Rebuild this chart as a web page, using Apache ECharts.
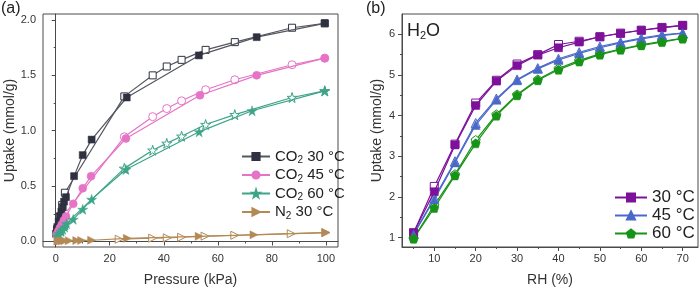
<!DOCTYPE html>
<html><head><meta charset="utf-8">
<script src="https://cdn.jsdelivr.net/npm/echarts@6/dist/echarts.min.js"></script>
<style>html,body{margin:0;padding:0;background:#fff}#c{width:700px;height:292px}</style>
</head><body><div id="c"></div>
<script>
// ---------- Panel (a): CO2 / N2 isotherms, [pressure kPa, uptake mmol/g] ----------
const co2_30_ads = [[0.1,0.07],[0.6,0.13],[1.1,0.18],[1.6,0.23],[2.1,0.27],[2.6,0.31],[3.1,0.36],[3.8,0.40],[6.8,0.59],[10,0.78],[13.3,0.92],[26.3,1.30],[53,1.68],[74.4,1.845],[99.6,1.97]];
const co2_30_des = [[99.6,1.97],[87.5,1.93],[66.3,1.80],[55.5,1.73],[46.6,1.64],[41.1,1.58],[35.9,1.50],[25.4,1.31],[3.4,0.44],[2.4,0.33],[1.4,0.22],[0.5,0.11]];
const co2_45_ads = [[0.3,0.06],[0.9,0.09],[1.5,0.12],[2.2,0.15],[3.0,0.19],[3.8,0.225],[6.5,0.34],[10,0.48],[13.1,0.59],[26,0.93],[53.4,1.32],[74.4,1.50],[99.6,1.655]];
const co2_45_des = [[99.6,1.655],[87.5,1.596],[66.3,1.46],[55.5,1.37],[46.6,1.27],[41.1,1.20],[35.9,1.127],[25.4,0.945],[3.4,0.25],[2.0,0.16],[0.8,0.08]];
const co2_60_ads = [[0.5,0.05],[1.2,0.07],[1.9,0.09],[2.6,0.11],[3.3,0.13],[4.0,0.16],[6.5,0.20],[10,0.29],[13.3,0.38],[26,0.65],[53.1,0.99],[72.7,1.18],[99.6,1.36]];
const co2_60_des = [[99.6,1.36],[87.5,1.30],[66.3,1.145],[55.5,1.056],[46.6,0.95],[41.1,0.886],[35.9,0.824],[25.4,0.66],[3.4,0.15],[2.0,0.10],[0.8,0.06]];
const n2_30_ads = [[0.8,0.003],[1.6,0.004],[2.5,0.005],[3.4,0.006],[5,0.007],[7.8,0.008],[9.6,0.009],[13.3,0.011],[26.5,0.028],[53.1,0.046],[73.4,0.06],[100,0.08]];
const n2_30_des = [[100,0.08],[87.2,0.07],[66.3,0.056],[55.3,0.048],[46.6,0.038],[41.3,0.033],[35.9,0.03],[23.5,0.02]];
const aXTicks = [0,20,40,60,80,100];
const aXMinor = [10,30,50,70,90];
const aYTicks = [0,0.5,1,1.5,2];
const aYMinor = [0.25,0.75,1.25,1.75];

// ---------- Panel (b): H2O isotherms, RH % vs uptake ----------
const rh = [5,10,15,20,25,30,35,40,45,50,55,60,65,70];
const h30_ads = [1.12,2.13,3.28,4.25,4.85,5.23,5.49,5.67,5.81,5.94,6.02,6.10,6.16,6.22];
const h30_des = [1.12,2.26,3.30,4.31,4.87,5.27,5.50,5.75,5.83,5.94,6.03,6.10,6.17,6.22];
const h45_ads = [1.08,1.94,2.85,3.77,4.39,4.87,5.15,5.37,5.53,5.67,5.79,5.89,5.97,6.03];
const h45_des = [1.08,1.98,2.88,3.82,4.42,4.89,5.17,5.40,5.56,5.70,5.81,5.91,5.99,6.03];
const h60_ads = [0.98,1.73,2.53,3.32,4.00,4.50,4.87,5.13,5.33,5.50,5.62,5.73,5.81,5.90];
const h60_des = [0.98,1.80,2.56,3.40,4.03,4.52,4.89,5.16,5.36,5.52,5.64,5.74,5.83,5.90];
const bXTicks = [10,20,30,40,50,60,70];
const bXMinor = [5,15,25,35,45,55,65];
const bYTicks = [1,2,3,4,5,6];
const bYMinor = [1.5,2.5,3.5,4.5,5.5];

const STAR = 'path://M50,0 L61,35 L98,35 L68,57 L79,91 L50,70 L21,91 L32,57 L2,35 L39,35 Z';
const PENT = 'path://M50,0 L98,36 L80,95 L20,95 L2,36 Z';
const FONT = 'Liberation Sans, Arial, sans-serif';
const AX = '#4a4a4a';

function axes(dim, grid, min, max, majors, minors, name, nameGap, pos) {
  const common = {type:'value', gridIndex:grid, min:min, max:max, position:pos, splitLine:{show:false}};
  const major = Object.assign({}, common, {
    name:name, nameLocation:'middle', nameGap:nameGap,
    nameTextStyle:{fontSize:14, color:'#333', fontFamily:FONT},
    axisLine:{show:true, lineStyle:{color:AX, width:1}},
    axisTick:{show:true, inside:false, length:4, lineStyle:{color:AX}, customValues:majors},
    axisLabel:{show:true, fontSize:11, color:'#333', fontFamily:FONT, margin:dim==='x'?6:7, customValues:majors,
      formatter: v => (Math.abs(v) < 1e-9 ? (majors[1]-majors[0] < 1 ? '0.0' : '0') : (majors[1]-majors[0] < 1 ? v.toFixed(1) : String(v)))}
  });
  const minor = Object.assign({}, common, {
    axisLine:{show:false}, axisLabel:{show:false},
    axisTick:{show:true, inside:false, length:2, lineStyle:{color:AX}, customValues:minors}
  });
  return [major, minor];
}

const xAxis = [].concat(
  axes('x',0,-4.7,104.5,aXTicks,aXMinor,'Pressure (kPa)',26,'bottom'),
  axes('x',1,2.2,73.7,bXTicks,bXMinor,'RH (%)',26,'bottom'));
const yAxis = [].concat(
  axes('y',0,-0.05,2.054,aYTicks,aYMinor,'Uptake (mmol/g)',26,'left'),
  axes('y',1,0.77,6.5,bYTicks,bYMinor,'Uptake (mmol/g)',18,'left'));

function ser(name, data, xi, yi, color, lineColor, symbol, size, open, extra) {
  return Object.assign({
    name:name, type:'line', data:data, xAxisIndex:xi, yAxisIndex:yi,
    symbol:symbol, symbolSize:size, showAllSymbol:true, animation:false,
    lineStyle:{color:lineColor, width:1.2},
    itemStyle: open ? {color:'#fff', borderColor:color, borderWidth:1} : {color:color, borderColor:color, borderWidth:0.5},
    z: open ? 2 : 3
  }, extra || {});
}
const zipRH = arr => rh.map((r,i) => [r, arr[i]]);

const C30='#2f3140', C30L='#55575f', C45='#e674c6', C60='#3da487', CN2='#b38a55';
const P30='#7d1199', P45='#4a68c8', P60='#179317';

const series = [
  ser('CO2 30 °C d', co2_30_des, 0,0, C30, C30L, 'rect', 7, true),
  ser('CO2 45 °C d', co2_45_des, 0,0, C45, C45, 'circle', 8, true),
  ser('CO2 60 °C d', co2_60_des, 0,0, C60, C60, STAR, 10, true),
  ser('N2 30 °C d', n2_30_des, 0,0, CN2, CN2, 'triangle', 8, true, {symbolRotate:-90}),
  ser('CO2 30 °C', co2_30_ads, 0,0, C30, C30L, 'rect', 7, false),
  ser('CO2 45 °C', co2_45_ads, 0,0, C45, C45, 'circle', 8, false),
  ser('CO2 60 °C', co2_60_ads, 0,0, C60, C60, STAR, 10, false),
  ser('N2 30 °C', n2_30_ads, 0,0, CN2, CN2, 'triangle', 8, false, {symbolRotate:-90}),
  ser('30 °C d', zipRH(h30_des), 2,2, P30, P30, 'rect', 8, true),
  ser('45 °C d', zipRH(h45_des), 2,2, P45, P45, 'triangle', 9, true),
  ser('60 °C d', zipRH(h60_des), 2,2, P60, P60, PENT, 9, true),
  ser('30 °C', zipRH(h30_ads), 2,2, P30, P30, 'rect', 8, false),
  ser('45 °C', zipRH(h45_ads), 2,2, P45, P45, 'triangle', 9, false),
  ser('60 °C', zipRH(h60_ads), 2,2, P60, P60, PENT, 9, false)
];

const richLeg = {
  t:{fontSize:15, color:'#222', fontFamily:FONT, lineHeight:18},
  s:{fontSize:10, color:'#222', fontFamily:FONT, verticalAlign:'bottom', lineHeight:6}
};
const legFmt = n => n.replace(/^(CO|N)2 (.*)$/, '{t|$1}{s|2}{t| $2}');

const option = {
  animation:false,
  backgroundColor:'#fff',
  grid:[
    {left:43, top:14, width:295, height:239, show:true, borderColor:AX, borderWidth:1, containLabel:false},
    {left:402, top:14, width:296, height:239, show:true, borderColor:AX, borderWidth:1, containLabel:false}
  ],
  xAxis:xAxis, yAxis:yAxis, series:series,
  legend:[
    {data:['CO2 30 °C','CO2 45 °C','CO2 60 °C','N2 30 °C'], orient:'vertical', left:236, top:144,
     itemWidth:28, itemHeight:9, itemGap:2, formatter:legFmt, textStyle:{rich:richLeg, padding:[0,0,0,0]}},
    {data:['30 °C','45 °C','60 °C'], orient:'vertical', left:609, top:184,
     itemWidth:32, itemHeight:10, itemGap:1, textStyle:{fontSize:17, color:'#222', fontFamily:FONT}}
  ],
  graphic:[
    {type:'text', left:1, top:1, style:{text:'(a)', fontSize:16, fill:'#222', fontFamily:FONT}},
    {type:'text', left:366, top:1, style:{text:'(b)', fontSize:16, fill:'#222', fontFamily:FONT}},
    {type:'text', left:407, top:22, style:{text:'{t|H}{s|2}{t|O}', fill:'#222',
      rich:{t:{fontSize:18, fontFamily:FONT, fill:'#222', lineHeight:20}, s:{fontSize:11, fontFamily:FONT, fill:'#222', verticalAlign:'bottom', lineHeight:8}}}}
  ]
};
echarts.init(document.getElementById('c'), null, {renderer:'canvas'}).setOption(option);
</script></body></html>
